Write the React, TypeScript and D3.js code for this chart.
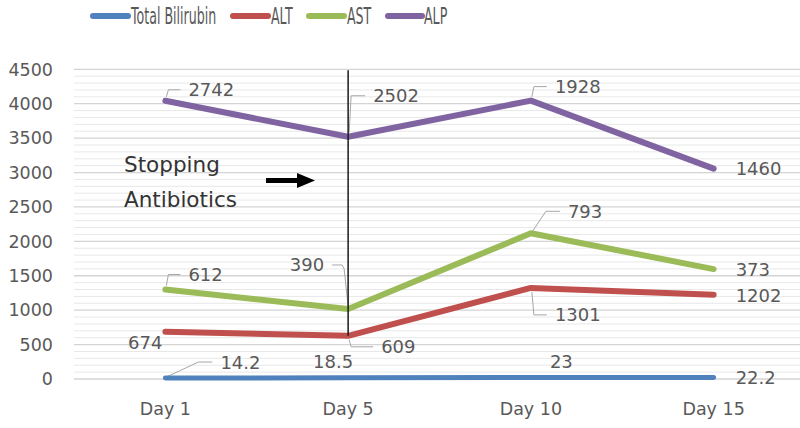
import React from "react";
import * as d3 from "d3";

const days = ["Day 1", "Day 5", "Day 10", "Day 15"];
const seriesNames = ["Total Bilirubin", "ALT", "AST", "ALP"];
const bilirubin = [14.2, 18.5, 23, 22.2];
const alt = [674, 609, 1301, 1202];
const ast = [612, 390, 793, 373];
const alp = [2742, 2502, 1928, 1460];
const yTicks = [0, 500, 1000, 1500, 2000, 2500, 3000, 3500, 4000, 4500];
const annotationLines = ["Stopping", "Antibiotics"];
const annotationDay = "Day 5";

const colors = ["#4F81BD", "#C0504D", "#9BBB59", "#8064A2"];
const strokeWidths = [5, 6, 6, 6];

// label layout (offsets from point): dx, dy, anchor, leader type
type L = { dx: number; dy: number; anchor: "start" | "end"; leader?: "elbow" | "diag" | "elbowEnd" };
const labelLayout: L[][] = [
  [
    { dx: 55, dy: -16, anchor: "start", leader: "diag" },
    { dx: 5, dy: -16, anchor: "end" },
    { dx: 19, dy: -16, anchor: "start" },
    { dx: 22, dy: 0, anchor: "start" },
  ],
  [
    { dx: -3, dy: 11, anchor: "end" },
    { dx: 33, dy: 11, anchor: "start", leader: "elbow" },
    { dx: 24, dy: 27, anchor: "start", leader: "elbow" },
    { dx: 22, dy: 1, anchor: "start" },
  ],
  [
    { dx: 23, dy: -15, anchor: "start", leader: "elbow" },
    { dx: -24, dy: -44, anchor: "end", leader: "elbowEnd" },
    { dx: 37, dy: -22, anchor: "start", leader: "diag" },
    { dx: 22, dy: 0, anchor: "start" },
  ],
  [
    { dx: 23, dy: -11, anchor: "start", leader: "elbow" },
    { dx: 25, dy: -41, anchor: "start", leader: "elbow" },
    { dx: 24, dy: -14, anchor: "start", leader: "elbow" },
    { dx: 22, dy: 0, anchor: "start" },
  ],
];

const legendLayout = [
  { x1: 93, x2: 128, tx: 131 },
  { x1: 233, x2: 268, tx: 271 },
  { x1: 309, x2: 344, tx: 347 },
  { x1: 388, x2: 422, tx: 424 },
];

const FONT = "'DejaVu Sans', 'Open Sans', sans-serif";
const TEXT = "#595959";

export default function App() {
  const W = 800;
  const H = 428;
  const x = d3.scaleBand<string>().domain(days).range([74, 805]).padding(0);
  const cx = (d: string) => (x(d) as number) + x.bandwidth() / 2;
  const y = d3.scaleLinear().domain([0, 4500]).range([379, 69.3]);

  const rows = days.map((d, i) => ({
    day: d,
    [seriesNames[0]]: bilirubin[i],
    [seriesNames[1]]: alt[i],
    [seriesNames[2]]: ast[i],
    [seriesNames[3]]: alp[i],
  }));
  const raw = [bilirubin, alt, ast, alp];
  const stacked = d3.stack<any>().keys(seriesNames)(rows);

  const line = d3
    .line<[number, number]>()
    .x((d) => d[0])
    .y((d) => d[1]);

  const minorTicks = d3.range(0, 4501, 100).filter((v) => v % 500 !== 0);

  const annX = cx(annotationDay);
  const annIdx = days.indexOf(annotationDay);
  const annBottom = y(stacked[1][annIdx][1]);

  return (
    <svg width={W} height={H} style={{ position: "absolute", left: 0, top: 0, background: "#fff" }}>
      <rect width={W} height={H} fill="#fff" />
      {/* minor grid */}
      {minorTicks.map((t) => (
        <line key={"m" + t} x1={74} x2={800} y1={y(t)} y2={y(t)} stroke="#e8e8e8" strokeWidth={1} />
      ))}
      {yTicks.map((t) => (
        <line key={"g" + t} x1={74} x2={800} y1={y(t)} y2={y(t)} stroke="#d4d4d4" strokeWidth={1.3} />
      ))}
      {yTicks.map((t) => (
        <text key={"t" + t} x={53} y={y(t)} dy="0.36em" textAnchor="end" fontFamily={FONT} fontSize={17.5} fill={TEXT}>
          {t}
        </text>
      ))}
      {days.map((d) => (
        <text key={d} x={cx(d)} y={415} textAnchor="middle" fontFamily={FONT} fontSize={17.5} fill={TEXT}>
          {d}
        </text>
      ))}

      {/* leader lines */}
      {stacked.map((s, si) =>
        s.map((p, i) => {
          const lay = labelLayout[si][i];
          if (!lay.leader) return null;
          const px = cx(days[i]);
          const py = y(p[1]);
          const lx = px + lay.dx;
          const ly = py + lay.dy;
          let pts: [number, number][];
          if (lay.leader === "elbow") {
            const sy = lay.dy < 0 ? py - 4 : py + 4;
            pts = [[px + 1, sy], [px + 3, ly], [lx - 8, ly]];
          } else if (lay.leader === "elbowEnd") {
            pts = [[px, py - 3], [px - 4, ly + 4], [px - 6, ly], [lx + 8, ly]];
          } else {
            pts = [[px + 1, py - 1], [lx - 22, ly], [lx - 8, ly]];
          }
          return <path key={`l${si}-${i}`} d={line(pts) as string} fill="none" stroke="#a6a6a6" strokeWidth={1} />;
        })
      )}

      {/* series lines */}
      {stacked.map((s, si) => (
        <path
          key={seriesNames[si]}
          d={line(s.map((p, i) => [cx(days[i]), y(p[1])] as [number, number])) as string}
          fill="none"
          stroke={colors[si]}
          strokeWidth={strokeWidths[si]}
          strokeLinecap="round"
          strokeLinejoin="round"
        />
      ))}

      {/* data labels */}
      {stacked.map((s, si) =>
        s.map((p, i) => {
          const lay = labelLayout[si][i];
          const px = cx(days[i]);
          const py = y(p[1]);
          return (
            <text
              key={`t${si}-${i}`}
              x={px + lay.dx}
              y={py + lay.dy}
              dy="0.36em"
              textAnchor={lay.anchor}
              fontFamily={FONT}
              fontSize={18}
              fill={TEXT}
            >
              {raw[si][i]}
            </text>
          );
        })
      )}

      {/* annotation */}
      <line x1={annX} x2={annX} y1={y(4500) + 1} y2={annBottom} stroke="#1a1a1a" strokeWidth={1.5} />
      {annotationLines.map((t, i) => (
        <text key={t} x={124} y={172 + i * 34.5} fontFamily={FONT} fontSize={21.5} fill="#333">
          {t}
        </text>
      ))}
      <line x1={266} x2={300} y1={180.5} y2={180.5} stroke="#000" strokeWidth={5} />
      <path d="M297,173 L315,180.5 L297,188 Z" fill="#000" />

      {/* legend */}
      {seriesNames.map((n, i) => {
        const l = legendLayout[i];
        return (
          <g key={"lg" + n}>
            <line x1={l.x1} x2={l.x2} y1={16} y2={16} stroke={colors[i]} strokeWidth={6} strokeLinecap="round" />
            <g transform={`translate(${l.tx},16) scale(0.56,1)`}>
              <text x={0} y={0} dy="0.36em" fontFamily={FONT} fontSize={22.5} fill={TEXT}>
                {n}
              </text>
            </g>
          </g>
        );
      })}
    </svg>
  );
}
